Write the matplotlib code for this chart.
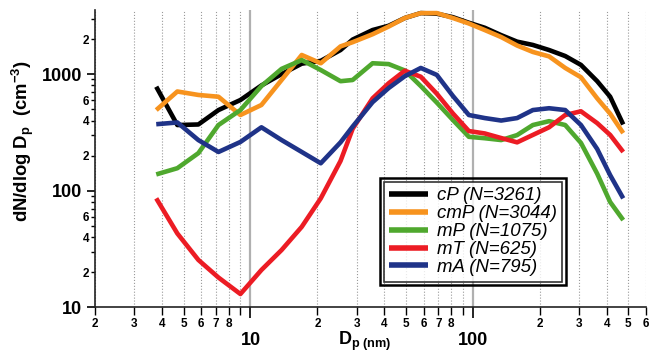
import numpy as np
import matplotlib.pyplot as plt
from matplotlib.ticker import FixedLocator, FuncFormatter
from matplotlib.patches import Rectangle

# particle diameter (nm) and mean size distributions dN/dlogDp (cm^-3)
dp = [3.77, 4.69, 5.83, 7.18, 9.01, 11.2, 13.8, 17.0, 20.7, 25.4, 28.8, 35.4,
      41.8, 49.4, 58.3, 68.8, 81.3, 95.9, 113, 134, 158, 186, 220, 260, 306,
      362, 414, 474]

cP = [780, 366, 370, 492, 600, 800, 1000, 1230, 1300, 1610, 1980, 2390, 2600,
      3030, 3340, 3300, 3080, 2760, 2500, 2160, 1900, 1780, 1610, 1430, 1200,
      870, 640, 370]
cmP = [492, 710, 663, 640, 446, 544, 891, 1460, 1240, 1730, 1880, 2200, 2560,
       3030, 3340, 3340, 3030, 2720, 2390, 2080, 1760, 1550, 1420, 1130, 940,
       620, 458, 312]
mP = [138, 156, 210, 366, 492, 790, 1110, 1320, 1085, 870, 891, 1240, 1220,
      1075, 790, 570, 404, 290, 282, 272, 300, 366, 395, 366, 257, 140, 80, 56]
mT = [86, 43, 25.5, 18, 13, 20.9, 31, 49, 86, 180, 340, 620, 835, 1070, 950,
      680, 460, 325, 310, 283, 260, 301, 350, 446, 480, 380, 301, 215]
mA = [372, 385, 272, 215, 262, 350, 272, 215, 172, 260, 355, 575, 760, 960,
      1130, 985, 650, 446, 420, 400, 420, 492, 510, 492, 366, 228, 136, 86]

labels = ["cP (N=3261)", "cmP (N=3044)", "mP (N=1075)", "mT (N=625)",
          "mA (N=795)"]
colors = ["#000000", "#F7931E", "#4FA82E", "#EC1C24", "#1F3388"]

x_minor = [2, 3, 4, 5, 6, 7, 8, 9, 20, 30, 40, 50, 60, 70, 80, 90,
           200, 300, 400, 500, 600]
y_minor = [20, 30, 40, 50, 60, 70, 80, 90, 200, 300, 400, 500, 600, 700, 800,
           900, 2000, 3000]

plt.rcParams['font.family'] = ['Liberation Sans', 'DejaVu Sans']
plt.rcParams['font.weight'] = 'bold'
plt.rcParams['mathtext.fontset'] = 'custom'
plt.rcParams['mathtext.rm'] = 'Liberation Sans:bold'
plt.rcParams['mathtext.bf'] = 'Liberation Sans:bold'
plt.rcParams['mathtext.it'] = 'Liberation Sans:bold:italic'

fig = plt.figure(figsize=(6.5, 3.53), dpi=100)
ax = fig.add_axes([95 / 650, 1 - 307.3 / 353, 551 / 650, 297.3 / 353])

for vals, lab, col in zip([cP, cmP, mP, mT, mA], labels, colors):
    ax.plot(dp, vals, color=col, lw=3.3, label=lab, solid_capstyle='butt')

ax.set_xscale('log')
ax.set_yscale('log')
ax.set_xlim(2, 600)
ax.set_ylim(10, 3550)

for s in ['top', 'right']:
    ax.spines[s].set_visible(False)
for s in ['left', 'bottom']:
    ax.spines[s].set_linewidth(1.2)
    ax.spines[s].set_color('#222222')


def mantissa(v):
    return int(round(v / 10 ** np.floor(np.log10(v))))


ax.xaxis.set_major_locator(FixedLocator([10, 100]))
ax.xaxis.set_minor_locator(FixedLocator(x_minor))
ax.xaxis.set_major_formatter(FuncFormatter(lambda v, _: f"{v:g}"))
ax.xaxis.set_minor_formatter(
    FuncFormatter(lambda v, _: str(mantissa(v)) if mantissa(v) <= 8 else ""))

ax.yaxis.set_major_locator(FixedLocator([10, 100, 1000]))
ax.yaxis.set_minor_locator(FixedLocator(y_minor))
ax.yaxis.set_major_formatter(FuncFormatter(lambda v, _: f"{v:g}"))
ax.yaxis.set_minor_formatter(
    FuncFormatter(lambda v, _: str(mantissa(v)) if mantissa(v) in (2, 4, 6) else ""))

ax.tick_params(axis='x', which='major', length=8, width=1.2, pad=10, labelsize=13)
ax.tick_params(axis='x', which='minor', length=6, width=1, pad=1.5, labelsize=8.5)
ax.tick_params(axis='y', which='major', length=6, width=1.2, pad=3.5, labelsize=13)
ax.tick_params(axis='y', which='minor', length=3, width=1, pad=1, labelsize=8.5)

ax.set_axisbelow(True)
ax.grid(which='minor', axis='x', color='#9a9a9a', ls=':', lw=0.8)
ax.grid(which='major', axis='x', color='#b0b0b0', ls='-', lw=1.6)

fig.text(23 / 650, 1 - 141 / 353, r"dN/dlog D$_\mathbf{p}$  (cm$^\mathbf{-3}$)",
         rotation=90, ha='center', va='center', fontsize=13.3, weight='bold')
fig.text(365 / 650, 1 - 345 / 353, r"$\mathbf{D_{p\ (nm)}}$",
         ha='center', va='baseline', fontsize=13)

leg = ax.legend(loc='upper left', bbox_to_anchor=(0.524, 0.423),
                prop={'style': 'italic', 'weight': 'normal', 'size': 13.4},
                frameon=True, fancybox=False, edgecolor='black',
                handlelength=2.1, handletextpad=0.45, labelspacing=0.05,
                borderpad=0.3, borderaxespad=0)
leg.get_frame().set_linewidth(1.2)
for h in leg.get_lines():
    h.set_linewidth(4)

# second, heavier outline around the legend box
fig.canvas.draw()
bb = leg.get_frame().get_window_extent()
pad = 3.5
fig.add_artist(Rectangle((bb.x0 - pad, bb.y0 - pad), bb.width + 2 * pad,
                         bb.height + 2 * pad, transform=None, fill=False,
                         lw=1.8, ec='black', zorder=5))

fig.savefig("out.png", dpi=100)
